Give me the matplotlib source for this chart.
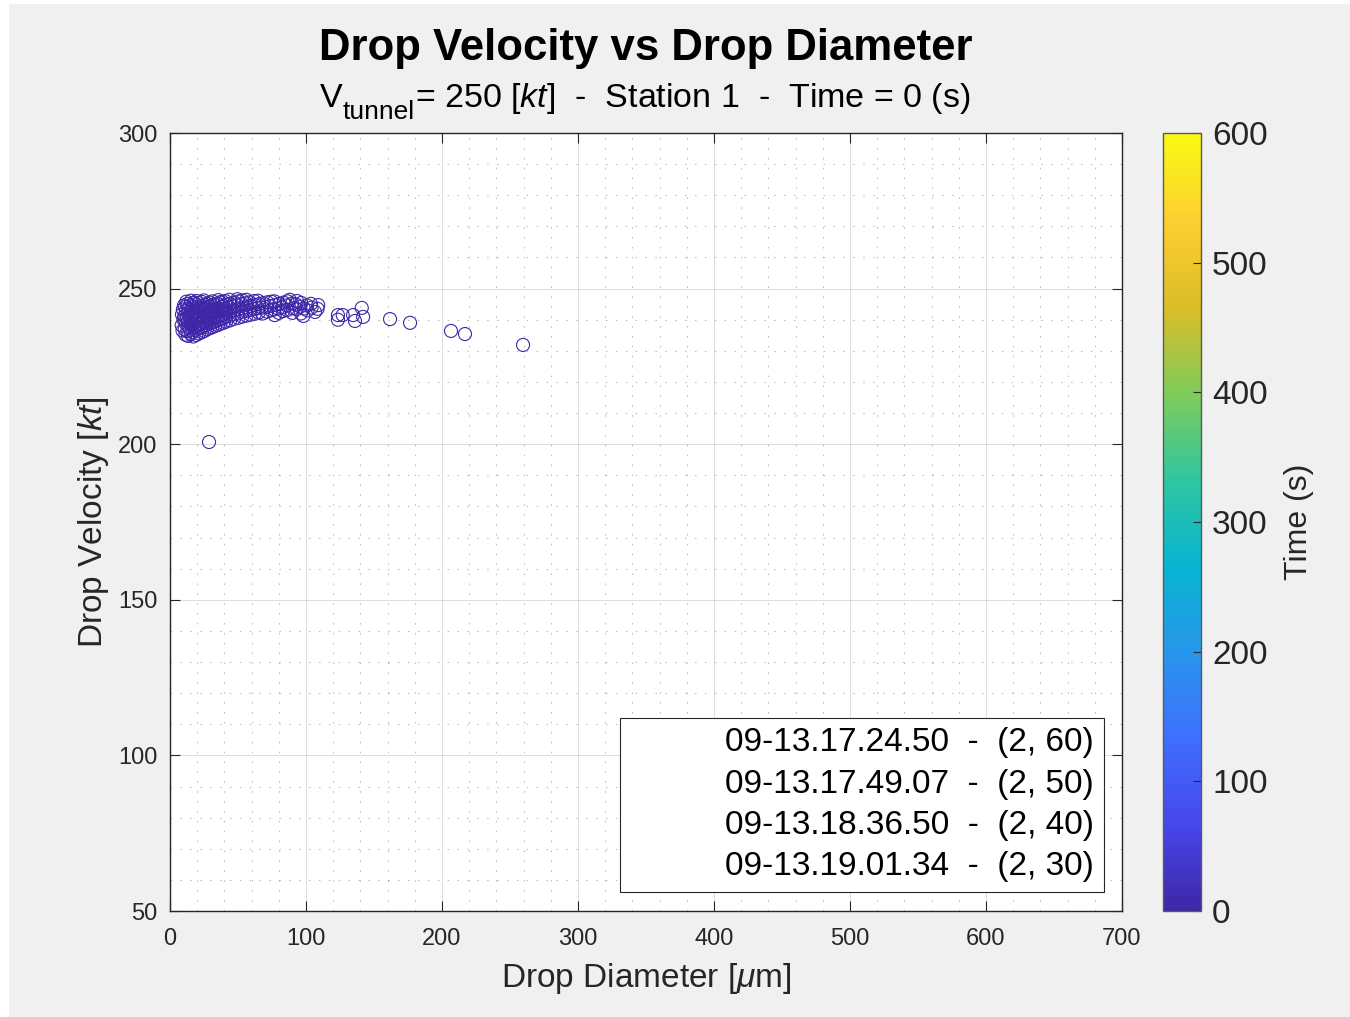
import matplotlib
matplotlib.use("Agg")
import matplotlib.pyplot as plt
from matplotlib.colors import LinearSegmentedColormap, Normalize
from matplotlib.cm import ScalarMappable
from matplotlib.lines import Line2D
from matplotlib.patches import Rectangle
from matplotlib.ticker import MultipleLocator

# ---- data -------------------------------------------------------------
diameter = [
    9.2, 8.6, 9.9, 8.8, 9.5, 10.3,
    11.4, 10.8, 11.9, 11.1, 10.6, 11.7, 11.2, 12.0,
    13.3, 12.8, 13.7, 13.1, 12.6, 13.9, 13.4, 12.9,
    15.2, 14.7, 15.6, 15.0, 14.5, 15.8, 15.3, 14.9, 15.5,
    17.1, 16.6, 17.5, 16.9, 17.8, 16.4, 17.3, 16.8, 17.6,
    19.3, 18.7, 19.6, 18.9, 19.8, 18.5, 19.2, 18.8, 19.5,
    21.2, 20.6, 21.7, 20.9, 21.4, 20.7, 21.8, 21.1,
    23.4, 22.8, 23.1, 23.7, 22.6, 23.3, 22.9, 23.6,
    25.3, 24.7, 25.6, 24.9, 25.8, 24.6, 25.2, 24.8,
    27.2, 26.6, 27.5, 26.9, 27.7, 26.7, 27.3,
    29.4, 28.8, 29.1, 28.6, 29.6, 28.9, 29.3,
    31.1, 30.7, 31.5, 30.9, 31.6, 30.6, 31.2,
    33.2, 32.7, 33.6, 32.9, 33.4, 32.6,
    35.3, 34.8, 35.6, 34.7, 35.1, 34.9, 35.5,
    37.1, 36.7, 37.4, 36.9, 37.6, 36.8,
    39.2, 38.7, 39.5, 38.9, 39.3, 38.6,
    41.3, 40.8, 41.6, 40.9, 41.2, 40.7,
    44.2, 43.6, 44.5, 43.8, 44.1, 43.7,
    47.1, 46.6, 47.4, 46.8, 47.3,
    50.2, 49.7, 50.5, 49.8, 50.3, 49.6,
    53.1, 52.7, 53.4, 52.8, 53.2,
    56.2, 55.7, 56.5, 55.9, 56.1,
    59.1, 58.6, 59.4, 58.8,
    62.3, 61.7, 62.5, 61.9,
    65.2, 64.6, 65.4, 64.8,
    68.1, 67.6, 68.4,
    71.3, 70.7, 71.5,
    74.2, 73.6, 74.4,
    77.0, 76.6, 77.3, 76.8,
    80.1, 79.6, 80.4,
    83.2, 82.7, 83.5,
    86.1, 85.7, 86.4, 88.0,
    90.0, 90.4, 89.7,
    93.1, 92.6, 93.4,
    96.2, 95.8, 96.5, 98.0, 98.4,
    101.2, 100.7, 104.1, 103.6, 106.6, 109.0, 108.5,
    123.5, 123.5, 127.0, 134.6, 136.0, 141.0, 142.0,
    161.8, 176.5, 206.6, 216.9, 259.6, 28.7,
]
velocity = [
    236.5, 238.2, 240.1, 241.7, 243.3, 244.6,
    235.2, 236.9, 238.6, 239.8, 241.2, 242.9, 244.1, 245.8,
    234.8, 236.3, 237.7, 239.4, 240.6, 242.2, 243.6, 245.1,
    235.4, 236.8, 238.1, 239.1, 240.9, 241.8, 243.2, 244.7, 246.1,
    234.6, 236.0, 237.4, 238.9, 240.3, 241.5, 242.7, 244.0, 245.4,
    235.1, 236.6, 238.0, 239.6, 240.8, 242.4, 243.8, 245.0, 246.0,
    235.6, 237.1, 238.4, 239.9, 241.3, 242.6, 243.9, 245.3,
    236.0, 237.5, 238.8, 240.4, 241.6, 243.0, 244.4, 245.7,
    236.4, 237.9, 239.3, 240.7, 242.1, 243.5, 244.8, 246.2,
    236.9, 238.3, 239.7, 241.0, 242.5, 243.7, 245.1,
    237.3, 238.7, 240.0, 241.4, 242.8, 244.2, 245.5,
    237.6, 239.0, 240.5, 241.9, 243.1, 244.5, 245.9,
    238.0, 239.4, 240.8, 242.2, 243.4, 244.9,
    238.3, 239.8, 241.1, 242.6, 243.8, 245.2, 246.3,
    238.7, 240.1, 241.5, 242.9, 244.1, 245.6,
    239.0, 240.4, 241.8, 243.2, 244.5, 245.8,
    239.4, 240.9, 242.2, 243.5, 244.8, 246.0,
    239.8, 241.2, 242.6, 243.9, 245.1, 246.4,
    240.3, 241.7, 243.0, 244.3, 245.5,
    240.6, 242.0, 243.4, 244.6, 245.9, 246.6,
    241.0, 242.5, 243.7, 245.0, 246.2,
    241.3, 242.8, 244.0, 245.3, 246.4,
    241.6, 243.1, 244.4, 245.6,
    241.9, 243.4, 244.7, 246.0,
    242.3, 243.7, 245.0, 246.1,
    242.0, 243.9, 245.3,
    242.6, 244.1, 245.6,
    243.0, 244.4, 245.8,
    241.5, 243.3, 244.7, 245.9,
    242.2, 243.6, 245.1,
    242.8, 244.0, 245.5,
    243.1, 244.6, 245.9, 246.4,
    242.2, 243.7, 245.2,
    243.4, 244.9, 246.0,
    242.0, 244.2, 245.4, 241.2, 243.6,
    243.0, 244.6, 243.9, 245.1, 242.5, 244.7, 243.5,
    241.5, 240.0, 241.5, 241.5, 239.6, 243.8, 240.9,
    240.2, 239.0, 236.4, 235.4, 231.9, 200.7,
]
time_s = 0  # every drop in this frame belongs to t = 0 s

legend_labels = [
    "09-13.17.24.50  -  (2, 60)",
    "09-13.17.49.07  -  (2, 50)",
    "09-13.18.36.50  -  (2, 40)",
    "09-13.19.01.34  -  (2, 30)",
]

x_ticks = [0, 100, 200, 300, 400, 500, 600, 700]
y_ticks = [50, 100, 150, 200, 250, 300]
cbar_ticks = [0, 100, 200, 300, 400, 500, 600]

# MATLAB-style parula colour ramp
parula_anchors = [
    (0.2422, 0.1504, 0.6603),
    (0.2803, 0.2782, 0.9221),
    (0.2440, 0.4358, 0.9988),
    (0.1540, 0.5902, 0.9218),
    (0.0297, 0.7082, 0.8163),
    (0.1938, 0.7758, 0.6251),
    (0.5044, 0.7993, 0.3480),
    (0.8634, 0.7406, 0.1596),
    (0.9892, 0.8136, 0.1885),
    (0.9769, 0.9839, 0.0805),
]
parula = LinearSegmentedColormap.from_list("parula", parula_anchors, N=256)
norm = Normalize(vmin=0, vmax=600)

# ---- style ------------------------------------------------------------
plt.rcParams["font.family"] = ["Liberation Sans", "DejaVu Sans"]
plt.rcParams["mathtext.fontset"] = "custom"
plt.rcParams["mathtext.rm"] = "Liberation Sans"
plt.rcParams["mathtext.it"] = "Liberation Sans:italic"
plt.rcParams["mathtext.bf"] = "Liberation Sans:bold"

W, H = 1350, 1017
fig = plt.figure(figsize=(W / 100, H / 100), dpi=100)
fig.patch.set_facecolor("white")
fig.add_artist(Rectangle((9 / W, 0), 1, 1 - 4 / H, transform=fig.transFigure,
                         facecolor="#f0f0f0", edgecolor="none", zorder=-10))

ink = "#262626"

ax = fig.add_axes([170 / W, 1 - 911 / H, 952 / W, 778 / H])
ax.set_facecolor("white")

edge = [parula(norm(time_s))] * len(diameter)
ax.scatter(diameter, velocity, s=88, facecolors="none", edgecolors=edge,
           linewidths=0.8, zorder=3)

ax.set_xlim(0, 700)
ax.set_ylim(50, 300)
ax.set_xticks(x_ticks)
ax.set_yticks(y_ticks)
ax.xaxis.set_minor_locator(MultipleLocator(20))
ax.yaxis.set_minor_locator(MultipleLocator(10))

ax.grid(True, which="major", color=ink, alpha=0.15, linewidth=0.75, zorder=0)
ax.grid(True, which="minor", color=ink, alpha=0.3, linewidth=0.75,
        linestyle=(0, (1.5, 8)), zorder=0)
ax.set_axisbelow(True)

ax.tick_params(which="major", direction="in", length=7, width=0.8,
               top=True, right=True, labelsize=17, colors=ink)
ax.tick_params(axis="x", which="major", pad=12)
ax.tick_params(axis="y", which="major", pad=9)
ax.tick_params(which="minor", length=0)
for sp in ax.spines.values():
    sp.set_color(ink)
    sp.set_linewidth(1.0)

ax.set_xlabel(r"Drop Diameter [$\mu$m]", fontsize=24, color=ink, labelpad=8)
ax.set_ylabel(r"Drop Velocity [$kt$]", fontsize=24, color=ink, labelpad=5)

handles = [Line2D([], [], linestyle="none", marker="") for _ in legend_labels]
leg = ax.legend(handles, legend_labels, loc="lower right",
                bbox_to_anchor=(0.9811, 0.0244), borderaxespad=0,
                fontsize=24, frameon=True, fancybox=False, framealpha=1,
                edgecolor=ink, handlelength=2.07, handletextpad=0.8,
                borderpad=0.29, labelspacing=0.31)
leg.get_frame().set_linewidth(0.8)

# colour bar
cax = fig.add_axes([1163 / W, 1 - 911 / H, 38 / W, 778 / H])
cb = fig.colorbar(ScalarMappable(norm=norm, cmap=parula), cax=cax)
cb.set_ticks(cbar_ticks)
cax.tick_params(direction="in", length=6, width=0.8, labelsize=24,
                colors=ink, pad=8)
cb.outline.set_edgecolor("#5a5a5a")
cb.outline.set_linewidth(1.0)
cb.set_label("Time (s)", fontsize=23, color=ink, labelpad=12)

# titles
fig.text(646 / W, 1 - 60 / H, "Drop Velocity vs Drop Diameter",
         ha="center", va="baseline", fontsize=31.5, fontweight="bold",
         color="black")

# subtitle built from pieces so the subscript sits low and large
renderer = fig.canvas.get_renderer()
base_y = 107
pieces = [
    ("V", 24.5, 0),
    ("tunnel", 19, 12),
    (r"= 250 [$kt$]  -  Station 1  -  Time = 0 (s)", 24.5, 0),
]
texts = []
for s, size, drop in pieces:
    t = fig.text(0, 1 - (base_y + drop) / H, s, ha="left", va="baseline",
                 fontsize=size, color="black")
    texts.append(t)
widths = [t.get_window_extent(renderer).width for t in texts]
x0 = 645 - sum(widths) / 2
for t, w in zip(texts, widths):
    t.set_x(x0 / W)
    x0 += w

fig.savefig("out.png", dpi=100, facecolor=fig.get_facecolor())
